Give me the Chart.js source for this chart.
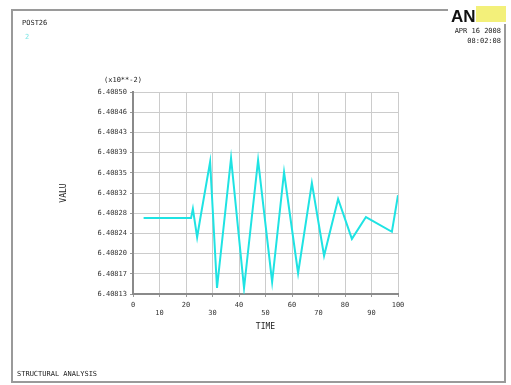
<!DOCTYPE html>
<html>
<head>
<meta charset="utf-8">
<script src="https://cdn.jsdelivr.net/npm/chart.js@4/dist/chart.umd.min.js"></script>
<style>
  html, body { margin: 0; padding: 0; background: #ffffff; }
  #wrap { width: 511px; height: 385px; position: relative; }
</style>
</head>
<body>
<div id="wrap"><canvas id="c" width="511" height="385"></canvas></div>
<script>
// Time history of the variable (TIME vs VALU)
const timeValues = [4, 21, 21.9, 22.6, 23.4, 24.2, 25.3, 29.1, 31.7, 37, 41.9, 47.2, 52.5, 57, 62.3, 67.5, 72.1, 77.4, 82.6, 87.9, 97.7, 100];
const valuValues = [6.408269, 6.408269, 6.408269, 6.408286, 6.408260, 6.408234, 6.408266, 6.408372, 6.408141, 6.408379, 6.408141, 6.408375, 6.408152, 6.408353, 6.408168, 6.408333, 6.408200, 6.408304, 6.408231, 6.408271, 6.408244, 6.408311];

// Axis tick labels
const xTickValues = [0, 10, 20, 30, 40, 50, 60, 70, 80, 90, 100];
const yTickValues = [6.40813, 6.408167, 6.408204, 6.408241, 6.408278, 6.408315, 6.408352, 6.408389, 6.408426, 6.408463, 6.40850];
const yTickLabels = ['6.40813', '6.40817', '6.40820', '6.40824', '6.40828', '6.40832', '6.40835', '6.40839', '6.40843', '6.40846', '6.40850'];

const points = timeValues.map((t, i) => ({ x: t, y: valuValues[i] }));
const FONT = 'DejaVu Sans Mono';

// Frame, header texts and annotations around the plot
const decor = {
  id: 'decor',
  beforeDraw(chart) {
    const g = chart.ctx;
    g.save();
    g.fillStyle = '#ffffff';
    g.fillRect(0, 0, chart.width, chart.height);
    g.restore();
  },
  afterDraw(chart) {
    const g = chart.ctx;
    const a = chart.chartArea;
    g.save();
    // outer window frame
    g.strokeStyle = '#9a9a9a';
    g.lineWidth = 2;
    g.strokeRect(12, 10, 493, 372);
    // logo
    g.fillStyle = '#ffffff';
    g.fillRect(448, 4, 60, 20);
    g.fillStyle = '#f3f07a';
    g.fillRect(476, 6, 30, 16);
    g.fillStyle = '#111111';
    g.font = 'bold 17px "Liberation Sans"';
    g.textBaseline = 'alphabetic';
    g.textAlign = 'left';
    g.fillText('AN', 451, 22);
    // header texts
    g.font = '7px "' + FONT + '"';
    g.fillStyle = '#222222';
    g.fillText('POST26', 22, 25);
    g.textAlign = 'right';
    g.fillText('APR 16 2008', 501, 33);
    g.fillText('08:02:08', 501, 43);
    g.textAlign = 'left';
    g.fillStyle = '#7fe6e6';
    g.fillText('2', 25, 39);
    // exponent note above the y axis
    g.fillStyle = '#222222';
    g.fillText('(x10**-2)', 104, 82);
    // y axis title
    g.save();
    g.translate(66, (a.top + a.bottom) / 2);
    g.rotate(-Math.PI / 2);
    g.textAlign = 'center';
    g.font = '8px "' + FONT + '"';
    g.fillText('VALU', 0, 0);
    g.restore();
    // x axis title
    g.textAlign = 'center';
    g.font = '8px "' + FONT + '"';
    g.fillText('TIME', (a.left + a.right) / 2, 329);
    // footer
    g.textAlign = 'left';
    g.font = '7px "' + FONT + '"';
    g.fillText('STRUCTURAL ANALYSIS', 17, 376);
    g.restore();
  }
};

new Chart(document.getElementById('c'), {
  type: 'line',
  data: {
    datasets: [{
      data: points,
      borderColor: '#1fe3e3',
      borderWidth: 2,
      pointRadius: 0,
      tension: 0,
      fill: false
    }]
  },
  options: {
    responsive: false,
    animation: false,
    events: [],
    layout: { padding: { left: 0, top: 92, right: 113, bottom: 0 } },
    plugins: { legend: { display: false }, tooltip: { enabled: false } },
    scales: {
      x: {
        type: 'linear',
        min: 0,
        max: 100,
        afterBuildTicks: s => { s.ticks = xTickValues.map(v => ({ value: v })); },
        afterFit: s => { s.height = 91; },
        grid: { color: '#cccccc', lineWidth: 1, drawTicks: true, tickLength: 3, tickColor: '#999999' },
        border: { display: true, color: '#8a8a8a', width: 2 },
        ticks: {
          autoSkip: false,
          maxRotation: 0,
          padding: 4,
          color: '#333333',
          font: { family: FONT, size: 7 },
          callback: (v, i) => (i % 2 === 0 ? String(v) : ['', String(v)])
        }
      },
      y: {
        type: 'linear',
        min: yTickValues[0],
        max: yTickValues[yTickValues.length - 1],
        afterBuildTicks: s => { s.ticks = yTickValues.map(v => ({ value: v })); },
        afterFit: s => { s.width = 133; },
        grid: { color: '#cccccc', lineWidth: 1, drawTicks: true, tickLength: 3, tickColor: '#999999' },
        border: { display: true, color: '#8a8a8a', width: 2 },
        ticks: {
          autoSkip: false,
          padding: 3,
          color: '#333333',
          font: { family: FONT, size: 7 },
          callback: (v, i) => yTickLabels[i]
        }
      }
    }
  },
  plugins: [decor]
});
</script>
</body>
</html>
